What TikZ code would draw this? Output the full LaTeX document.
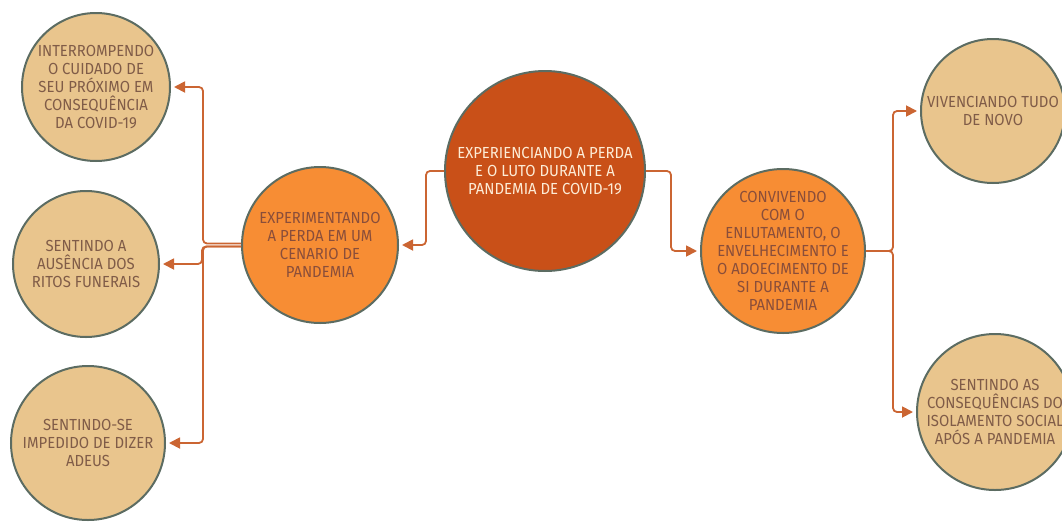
\documentclass[tikz,border=0pt]{standalone}
\usepackage{fontspec}
\setmainfont{Fira Sans}[FakeStretch=0.93]
\usetikzlibrary{arrows.meta}
\definecolor{TanClr}{RGB}{233,197,141}
\definecolor{OrangeClr}{RGB}{247,141,52}
\definecolor{RustClr}{RGB}{201,80,24}
\definecolor{RimClr}{RGB}{92,108,98}
\definecolor{LinkClr}{RGB}{203,101,50}
\definecolor{InkClr}{RGB}{128,92,72}
\definecolor{DeepInkClr}{RGB}{138,78,58}
\definecolor{PaleClr}{RGB}{253,236,214}

\tikzset{
  bubble/.style={circle,draw=RimClr,line width=2pt,inner sep=0pt},
  caption/.style={align=center,inner sep=0pt,font=\fontsize{16}{18}\selectfont,text=#1},
  leaf/.style={bubble,fill=TanClr,label={[caption=InkClr]center:#1}},
  branch/.style={bubble,fill=OrangeClr,label={[caption=DeepInkClr]center:#1}},
  root/.style={bubble,fill=RustClr,label={[caption=PaleClr]center:#1}},
  link/.style={draw=LinkClr,line width=1.8pt,rounded corners=4pt,
    -{Triangle[width=11pt,length=11pt]},shorten >=3pt}
}

\begin{document}
\begin{tikzpicture}[x=1pt,y=-1pt]
\useasboundingbox (0,0) rectangle (1062,525);

% central theme
\node[root={EXPERIENCIANDO A PERDA\\E O LUTO DURANTE A\\PANDEMIA DE COVID-19},
  minimum size=200] (luto) at (545,171) {};

% the two categories
\node[branch={EXPERIMENTANDO\\A PERDA EM UM\\CENARIO DE\\PANDEMIA},
  minimum size=156] (perda) at (320,245) {};
\node[branch={CONVIVENDO\\COM O\\ENLUTAMENTO, O\\ENVELHECIMENTO E\\O ADOECIMENTO DE\\SI DURANTE A\\PANDEMIA},
  minimum size=164] (convive) at (783,251) {};

% subcategories, left
\node[leaf={INTERROMPENDO\\O CUIDADO DE\\SEU PRÓXIMO EM\\CONSEQUÊNCIA\\DA COVID-19},
  minimum size=148] (cuidado) at (96,87) {};
\node[leaf={SENTINDO A\\AUSÊNCIA DOS\\RITOS FUNERAIS},
  minimum size=146] (ritos) at (86,264) {};
\node[leaf={SENTINDO-SE\\IMPEDIDO DE DIZER\\ADEUS},
  minimum size=154] (adeus) at (88,443) {};

% subcategories, right
\node[leaf={VIVENCIANDO TUDO\\DE NOVO},
  minimum size=144] (novo) at (993,111) {};
\node[leaf={SENTINDO AS\\CONSEQUÊNCIAS DO\\ISOLAMENTO SOCIAL\\APÓS A PANDEMIA},
  minimum size=156] (isola) at (995,412) {};

\draw[link] (luto.west) -- ++(-18,0) |- (perda.east);
\draw[link] (luto.east) -- ++(25,0) |- (convive.west);

\draw[link] ([yshift=1.5pt]perda.west) -- ++(-38,0) |- (cuidado.east);
\draw[link] ([yshift=-1.5pt]perda.west) -- ++(-38,0) |- (adeus.east);
\draw[link] ([yshift=-1.5pt]perda.west) -| ([xshift=42pt]ritos.east) -- (ritos.east);

\draw[link] (convive.east) -- ++(27,0) |- (novo.west);
\draw[link] (convive.east) -- ++(27,0) |- (isola.west);

\end{tikzpicture}
\end{document}
